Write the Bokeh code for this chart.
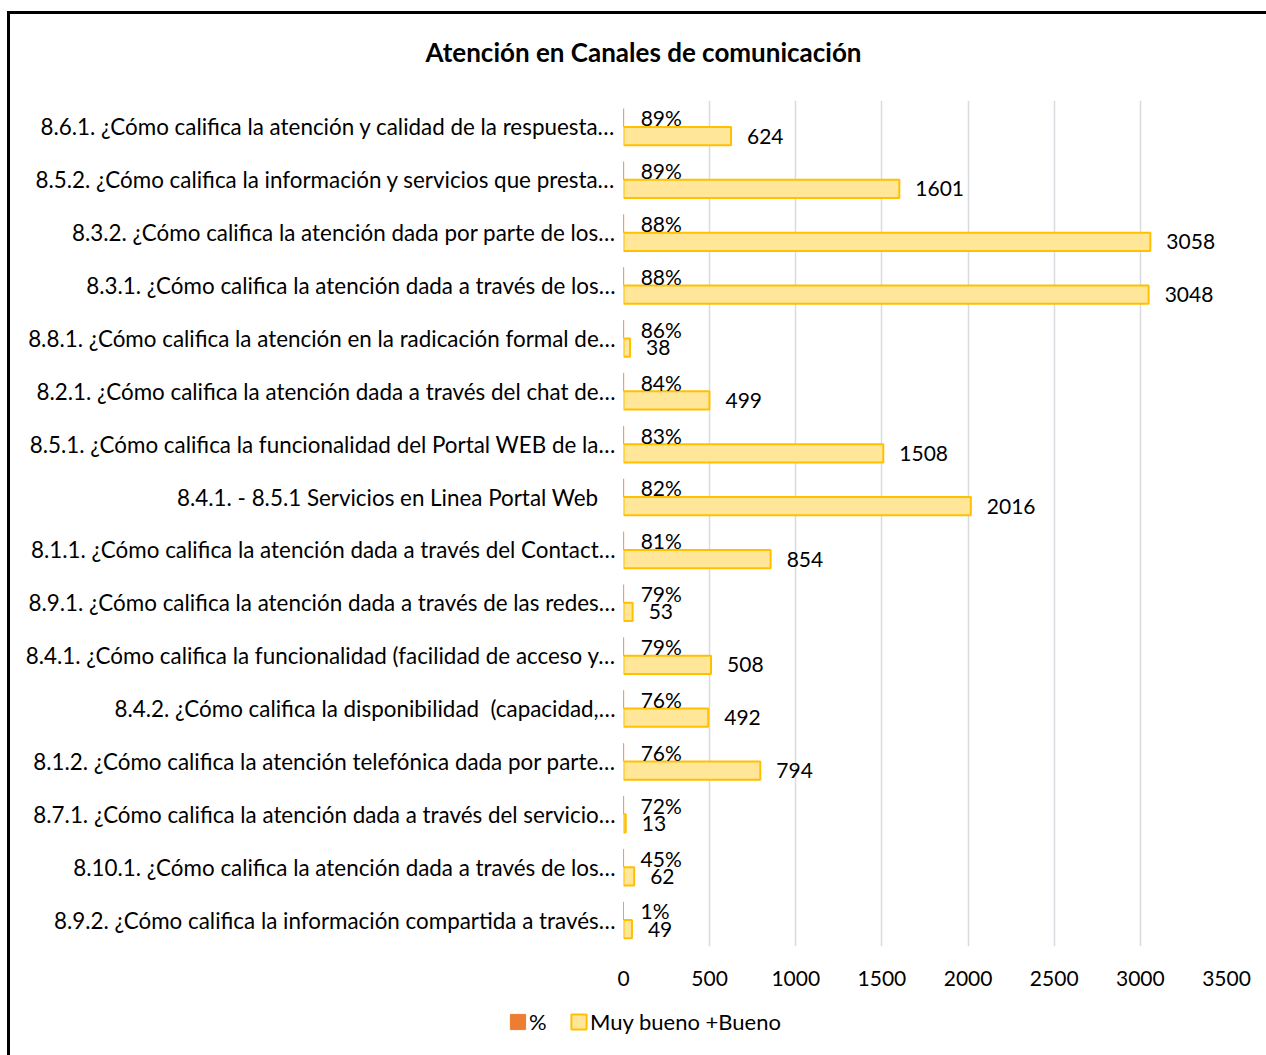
from bokeh.plotting import figure
from bokeh.models import FactorRange, Range1d, ColumnDataSource, Legend, LegendItem, FixedTicker, Title
from bokeh.layouts import column, row
from bokeh.transform import dodge
from bokeh.core.properties import value
from bokeh.embed import file_html
from bokeh.resources import INLINE

NB = "\u00a0"
categories = [
    "8.6.1. ¿Cómo califica la atención y calidad de la respuesta…",
    "8.5.2. ¿Cómo califica la información y servicios que presta…",
    "8.3.2. ¿Cómo califica la atención dada por parte de los…",
    "8.3.1. ¿Cómo califica la atención dada a través de los…",
    "8.8.1. ¿Cómo califica la atención en la radicación formal de…",
    "8.2.1. ¿Cómo califica la atención dada a través del chat de…",
    "8.5.1. ¿Cómo califica la funcionalidad del Portal WEB de la…",
    "8.4.1. - 8.5.1 Servicios en Linea Portal Web" + NB * 3,
    "8.1.1. ¿Cómo califica la atención dada a través del Contact…",
    "8.9.1. ¿Cómo califica la atención dada a través de las redes…",
    "8.4.1. ¿Cómo califica la funcionalidad (facilidad de acceso y…",
    "8.4.2. ¿Cómo califica la disponibilidad" + NB + " (capacidad,…",
    "8.1.2. ¿Cómo califica la atención telefónica dada por parte…",
    "8.7.1. ¿Cómo califica la atención dada a través del servicio…",
    "8.10.1. ¿Cómo califica la atención dada a través de los…",
    "8.9.2. ¿Cómo califica la información compartida a través…",
]
pct = [0.89, 0.89, 0.88, 0.88, 0.86, 0.84, 0.83, 0.82, 0.81, 0.79, 0.79, 0.76, 0.76, 0.72, 0.45, 0.01]
muy_bueno = [624, 1601, 3058, 3048, 38, 499, 1508, 2016, 854, 53, 508, 492, 794, 13, 62, 49]
x_ticks = [0, 500, 1000, 1500, 2000, 2500, 3000, 3500]
title_text = "Atención en Canales de comunicación"
series_names = ["%", "Muy bueno +Bueno"]

FONT = "Lato"
PCT_FILL, PCT_LINE = "#ED7D31", "#ED7D31"
CNT_FILL, CNT_LINE = "#FFE699", "#FFC000"

src = ColumnDataSource(dict(
    cat=categories,
    pct=pct,
    cnt=muy_bueno,
    pct_lbl=[f"{round(v*100)}%" for v in pct],
    cnt_lbl=[str(v) for v in muy_bueno],
))

p = figure(width=1256, height=974, output_backend="svg", toolbar_location=None,
           y_range=FactorRange(factors=categories[::-1]), x_range=Range1d(0, 3500),
           min_border_left=613, min_border_right=40, min_border_top=86, min_border_bottom=40)

# spacer (nearest the frame), then the real title above it
p.add_layout(Title(text=" ", text_font_size="2px", standoff=29), "above")
p.add_layout(Title(text=title_text, text_font=FONT, text_font_size="26px",
                   text_font_style="bold", text_color="#000000",
                   align="left", offset=-198, standoff=0), "above")

p.outline_line_color = None
p.ygrid.grid_line_color = None
p.xgrid.grid_line_color = "#d9dbe0"
p.xgrid.grid_line_width = 1.5
p.xaxis.ticker = FixedTicker(ticks=x_ticks)

for ax in (p.xaxis[0], p.yaxis[0]):
    ax.axis_line_color = None
    ax.major_tick_line_color = None
    ax.minor_tick_line_color = None
    ax.major_label_text_font = FONT
    ax.major_label_text_color = "#000000"
p.yaxis.major_label_text_font_size = "22.4px"
p.xaxis.major_label_text_font_size = "21px"
p.xaxis.major_label_standoff = 18
p.yaxis.major_label_standoff = 2

off = 0.172
h = 0.344
r_pct = p.hbar(y=dodge("cat", off, range=p.y_range), right="pct", left=0, height=h,
               source=src, fill_color=PCT_FILL, line_color=PCT_LINE, line_width=1)
r_cnt = p.hbar(y=dodge("cat", -off, range=p.y_range), right="cnt", left=0, height=h,
               source=src, fill_color=CNT_FILL, line_color=CNT_LINE, line_width=2)

p.text(x="pct", y=dodge("cat", off, range=p.y_range), text="pct_lbl", source=src,
       x_offset=17, text_align="left", text_baseline="middle",
       text_font=value(FONT), text_font_size="21px", text_color="#000000")
p.text(x="cnt", y=dodge("cat", -off, range=p.y_range), text="cnt_lbl", source=src,
       x_offset=16, text_align="left", text_baseline="middle",
       text_font=value(FONT), text_font_size="21px", text_color="#000000")

# legend strip below the chart; its tiny swatch renderers are hidden under the legend box
lg = figure(width=1256, height=67, output_backend="svg", toolbar_location=None,
            x_range=Range1d(0, 1), y_range=Range1d(0, 1),
            min_border=0, x_axis_location=None, y_axis_location=None)
lg.outline_line_color = None
lg.grid.grid_line_color = None
swatch = ColumnDataSource(dict(y=[0.5], left=[0.45], right=[0.455]))
l_pct = lg.hbar(y="y", right="right", left="left", height=0.04, source=swatch,
                fill_color=PCT_FILL, line_color=PCT_LINE, line_width=1)
l_cnt = lg.hbar(y="y", right="right", left="left", height=0.04, source=swatch,
                fill_color=CNT_FILL, line_color=CNT_LINE, line_width=2)
legend = Legend(items=[LegendItem(label=series_names[0], renderers=[l_pct]),
                       LegendItem(label=series_names[1], renderers=[l_cnt])],
                orientation="horizontal", location=(498, 20),
                label_text_font=FONT, label_text_font_size="22px", label_text_color="#000000",
                glyph_width=19, glyph_height=19, spacing=20, padding=5, margin=0,
                label_standoff=2, border_line_color=None,
                background_fill_color="#ffffff", background_fill_alpha=1)
lg.add_layout(legend)

layout = column(p, row(lg), spacing=0)
layout.styles = {"margin-left": "7px", "margin-top": "11px",
                 "border-left": "3px solid #000000", "border-top": "3px solid #000000"}

open("out.html", "w").write(file_html(layout, INLINE))
